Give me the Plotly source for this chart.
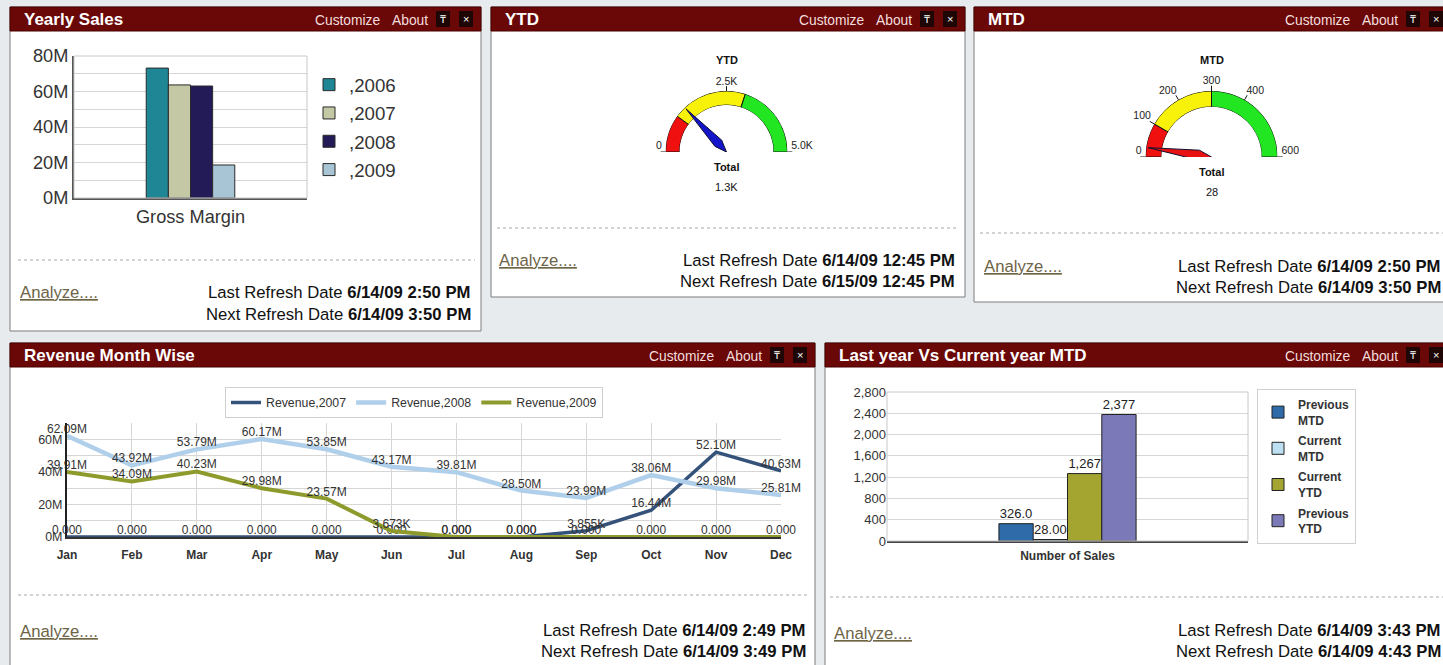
import plotly.graph_objects as go

W, H = 1443, 665


def fx(x):
    return x / W


def fy(y):
    return 1 - y / H


FONT = "Liberation Sans, Arial, sans-serif"

# ---------------- data ----------------
sales_category = ["Gross Margin"]
sales_years = [",2006", ",2007", ",2008", ",2009"]
gross_margin = [73.2e6, 63.7e6, 63.1e6, 18.6e6]
sales_colors = ["#1F8696", "#C4C8A5", "#231B58", "#A8C5D5"]
sales_ticks = [0, 20e6, 40e6, 60e6, 80e6]

months = ["Jan", "Feb", "Mar", "Apr", "May", "Jun", "Jul", "Aug", "Sep", "Oct", "Nov", "Dec"]
rev_names = ["Revenue,2007", "Revenue,2008", "Revenue,2009"]
rev_2007 = [0, 0, 0, 0, 0, 0, 0, 0, 3.855e6, 16.44e6, 52.10e6, 40.63e6]
rev_2008 = [62.09e6, 43.92e6, 53.79e6, 60.17e6, 53.85e6, 43.17e6, 39.81e6, 28.50e6, 23.99e6, 38.06e6, 29.98e6, 25.81e6]
rev_2009 = [39.91e6, 34.09e6, 40.23e6, 29.98e6, 23.57e6, 3.673e6, 0, 0, 0, 0, 0, 0]
rev_colors = ["#34527A", "#AFCFEA", "#8E9B2C"]
rev_ticks = [0, 20e6, 40e6, 60e6]

mtd_category = ["Number of Sales"]
mtd_series = ["Previous<br>MTD", "Current<br>MTD", "Current<br>YTD", "Previous<br>YTD"]
mtd_values = [326.0, 28.0, 1267, 2377]
mtd_colors = ["#2F6BA8", "#BDE0F2", "#A4A531", "#7C79B9"]

ytd_value, ytd_max = 1300, 5000
ytd_bands = [0, 1000, 3000, 5000]
ytd_ticks = [0, 2500, 5000]
ytd_ticktext = ["0", "2.5K", "5.0K"]

mtdg_value, mtdg_max = 28, 600
mtdg_bands = [0, 100, 300, 600]
mtdg_ticks = [0, 100, 200, 300, 400, 600]
mtdg_ticktext = ["0", "100", "200", "300", "400", "600"]
band_colors = ["#F01010", "#F8F20A", "#22E622"]


def fmt_rev(v):
    if v == 0:
        return "0.000"
    if v < 10e6:
        return f"{v / 1000:,.0f}K"
    return f"{v / 1e6:.2f}M"


def fmt_cnt(v):
    if v >= 1000:
        return f"{v:,.0f}"
    if v >= 100:
        return f"{v:.1f}"
    return f"{v:.2f}"


def deg(v, vmax):
    return v / vmax * 180.0


fig = go.Figure()

# ---------------- Yearly Sales bars ----------------
for name, val, col in zip(sales_years, gross_margin, sales_colors):
    fig.add_trace(go.Bar(
        x=sales_category, y=[val], name=name, xaxis="x", yaxis="y", legend="legend",
        legendgroup=name, marker=dict(color=col, line=dict(color="#2a2a2a", width=1)),
        hoverinfo="skip"))

# ---------------- Revenue month wise ----------------
for name, vals, col, wd in zip(rev_names, [rev_2007, rev_2008, rev_2009], rev_colors, [3.5, 4.5, 4]):
    fig.add_trace(go.Scatter(
        x=months, y=vals, name=name, xaxis="x2", yaxis="y2", legend="legend2",
        mode="lines+text", text=[fmt_rev(v) for v in vals], textposition="top center",
        textfont=dict(family=FONT, size=12, color="#333"), cliponaxis=False,
        line=dict(color=col, width=wd), hoverinfo="skip"))

# ---------------- Last year vs current year bars ----------------
for name, val, col in zip(mtd_series, mtd_values, mtd_colors):
    fig.add_trace(go.Bar(
        x=mtd_category, y=[val], name=name, xaxis="x3", yaxis="y3", legend="legend3",
        legendgroup=name, text=[fmt_cnt(val)], textposition="outside", cliponaxis=False,
        textfont=dict(family=FONT, size=13, color="#222"),
        marker=dict(color=col, line=dict(color="#222", width=1)), hoverinfo="skip"))

# ---------------- gauges ----------------
K = 1.4  # radial extent of the overlay polar (ring outer radius = 1)


def label_pos(d):
    if d < 80:
        return "top left"
    if d <= 100:
        return "top center"
    return "top right"


def add_gauge(ring, needle, bands, vmax, value, needle_color, ticks, ticktext):
    for lo, hi, col in zip(bands[:-1], bands[1:], band_colors):
        fig.add_trace(go.Barpolar(
            r=[1], base=[0], theta=[deg((lo + hi) / 2, vmax)], width=[deg(hi - lo, vmax)],
            marker=dict(color=col, line=dict(color="#111", width=1)),
            subplot=ring, showlegend=False, hoverinfo="skip"))
    tr, tt = [], []
    for v in ticks:
        tr += [1.0, 1.08, None]
        tt += [deg(v, vmax), deg(v, vmax), None]
    fig.add_trace(go.Scatterpolar(r=tr, theta=tt, mode="lines", line=dict(color="#111", width=1),
                                  subplot=needle, showlegend=False, hoverinfo="skip"))
    degs = [deg(v, vmax) for v in ticks]
    fig.add_trace(go.Scatterpolar(
        r=[1.06] * len(ticks), theta=degs, mode="text", text=ticktext,
        textposition=[label_pos(d) for d in degs],
        textfont=dict(family=FONT, size=10.5, color="#222"),
        subplot=needle, showlegend=False, hoverinfo="skip"))
    t = deg(value, vmax)
    fig.add_trace(go.Scatterpolar(
        r=[0, 0.21, 0.97, 0.21, 0], theta=[t, t + 21, t, t - 21, t],
        mode="lines", fill="toself", fillcolor=needle_color,
        line=dict(color="#101030", width=1), subplot=needle, showlegend=False, hoverinfo="skip"))


add_gauge("polar", "polar2", ytd_bands, ytd_max, ytd_value, "#1414C8", ytd_ticks, ytd_ticktext)
add_gauge("polar3", "polar4", mtdg_bands, mtdg_max, mtdg_value, "#E81212", mtdg_ticks, mtdg_ticktext)


def polar_layout(cx, cy, R, hole, rmax):
    rr = R * rmax
    return dict(
        domain=dict(x=[fx(cx - rr), fx(cx + rr)], y=[fy(cy), fy(cy - rr)]),
        sector=[0, 180], hole=hole, bgcolor="rgba(0,0,0,0)",
        radialaxis=dict(visible=False, range=[0, rmax]),
        angularaxis=dict(visible=False, rotation=180, direction="clockwise"))


# ---------------- panels (decoration) ----------------
shapes = []
annotations = []

panels = [
    (10, 7, 481, 331, "Yearly Sales"),
    (491, 7, 965, 297, "YTD"),
    (974, 7, 1451, 302, "MTD"),
    (10, 343, 815, 672, "Revenue Month Wise"),
    (825, 343, 1451, 672, "Last year Vs Current year MTD"),
]
HDR = "#6A0707"
for x0, y0, x1, y1, title in panels:
    shapes.append(dict(type="rect", xref="paper", yref="paper", x0=fx(x0), x1=fx(x1), y0=fy(y1), y1=fy(y0),
                       fillcolor="white", line=dict(color="#7d7d7d", width=1), layer="below"))
    shapes.append(dict(type="rect", xref="paper", yref="paper", x0=fx(x0), x1=fx(x1), y0=fy(y0 + 24), y1=fy(y0),
                       fillcolor=HDR, line=dict(color="#4a0000", width=1), layer="below"))
    cy = y0 + 12
    annotations.append(dict(x=fx(x0 + 12), y=fy(cy), xref="paper", yref="paper", text=f"<b>{title}</b>",
                            showarrow=False, xanchor="left", yanchor="middle",
                            font=dict(family=FONT, size=17, color="white")))
    annotations.append(dict(x=fx(x1 - 99), y=fy(cy + 1), xref="paper", yref="paper", text="Customize",
                            showarrow=False, xanchor="right", yanchor="middle",
                            font=dict(family=FONT, size=13.8, color="#F2DEDE")))
    annotations.append(dict(x=fx(x1 - 51), y=fy(cy + 1), xref="paper", yref="paper", text="About",
                            showarrow=False, xanchor="right", yanchor="middle",
                            font=dict(family=FONT, size=13.8, color="#F2DEDE")))
    for cx, sym in [(x1 - 38, "₸"), (x1 - 15, "×")]:
        shapes.append(dict(type="rect", xref="paper", yref="paper", x0=fx(cx - 7), x1=fx(cx + 7),
                           y0=fy(cy + 8), y1=fy(cy - 8), fillcolor="#1E0606", line=dict(width=0), layer="below"))
        annotations.append(dict(x=fx(cx), y=fy(cy), xref="paper", yref="paper", text=sym, showarrow=False,
                                xanchor="center", yanchor="middle", font=dict(family=FONT, size=11, color="white")))

footers = [
    (260, 18, 475, 18, 293, 473, 293, 314, "6/14/09 2:50 PM", "6/14/09 3:50 PM"),
    (228, 497, 958, 497, 260, 957, 260, 281, "6/14/09 12:45 PM", "6/15/09 12:45 PM"),
    (233, 980, 1443, 982, 266, 1443, 266, 287, "6/14/09 2:50 PM", "6/14/09 3:50 PM"),
    (595, 18, 810, 18, 631, 808, 630, 651, "6/14/09 2:49 PM", "6/14/09 3:49 PM"),
    (597, 830, 1443, 832, 633, 1443, 630, 651, "6/14/09 3:43 PM", "6/14/09 4:43 PM"),
]
for dy, dx0, dx1, ax, ay, rx, ly, ny, last, nxt in footers:
    shapes.append(dict(type="line", xref="paper", yref="paper", x0=fx(dx0), x1=fx(dx1), y0=fy(dy), y1=fy(dy),
                       line=dict(color="#A8A8A8", width=1, dash="dot"), layer="below"))
    annotations.append(dict(x=fx(ax), y=fy(ay), xref="paper", yref="paper", text="<u>Analyze....</u>",
                            showarrow=False, xanchor="left", yanchor="middle",
                            font=dict(family=FONT, size=16.7, color="#6E6446")))
    annotations.append(dict(x=fx(rx), y=fy(ly), xref="paper", yref="paper",
                            text=f"Last Refresh Date <b>{last}</b>", showarrow=False, xanchor="right",
                            yanchor="middle", font=dict(family=FONT, size=16.7, color="#111")))
    annotations.append(dict(x=fx(rx), y=fy(ny), xref="paper", yref="paper",
                            text=f"Next Refresh Date <b>{nxt}</b>", showarrow=False, xanchor="right",
                            yanchor="middle", font=dict(family=FONT, size=16.7, color="#111")))

# gauge captions
for cx, title, ty, tot_y, val_txt in [
    (726.5, "YTD", 60, 167, f"{ytd_value / 1000:.1f}K"),
    (1211.5, "MTD", 60, 172, f"{mtdg_value}"),
]:
    for txt, yy in [(f"<b>{title}</b>", ty), ("<b>Total</b>", tot_y), (val_txt, tot_y + 20)]:
        annotations.append(dict(x=fx(cx), y=fy(yy), xref="paper", yref="paper", text=txt,
                                showarrow=False, xanchor="center", yanchor="middle",
                                font=dict(family=FONT, size=11, color="#111")))

# plot frames (light)
for xr, yr in [("x domain", "y domain"), ("x3 domain", "y3 domain")]:
    shapes.append(dict(type="rect", xref=xr, yref=yr, x0=0, x1=1, y0=0, y1=1,
                       line=dict(color="#C8C8C8", width=1), layer="above"))

grid = "#D6D6D6"
fig.update_layout(
    width=W, height=H, autosize=False, margin=dict(l=0, r=0, t=0, b=0, pad=0, autoexpand=False),
    paper_bgcolor="#E8EBEE", plot_bgcolor="white",
    font=dict(family=FONT, color="#333"),
    barmode="group", bargap=0.62, bargroupgap=0,
    showlegend=True,
    shapes=shapes, annotations=annotations,
    xaxis=dict(domain=[fx(74), fx(307)], anchor="y", type="category", showgrid=False, automargin=False,
               showline=True, linecolor="#555", linewidth=2, ticks="",
               tickfont=dict(family=FONT, size=18.2, color="#333"), ticklabelstandoff=1),
    yaxis=dict(domain=[fy(198), fy(56)], anchor="x", range=[0, 80e6], tickmode="array", automargin=False,
               tickvals=sales_ticks, ticktext=[f"{v / 1e6:.0f}M" for v in sales_ticks],
               showgrid=True, gridcolor=grid, zeroline=False,
               minor=dict(tickmode="linear", tick0=0, dtick=10e6, showgrid=True, gridcolor=grid),
               showline=True, linecolor="#555", linewidth=2, ticks="",
               tickfont=dict(family=FONT, size=18.2, color="#333")),
    xaxis2=dict(domain=[fx(67), fx(781)], anchor="y2", type="category", range=[0, 11], automargin=False,
                showgrid=True, gridcolor=grid, showline=True, linecolor="#333", linewidth=2, ticks="",
                tickfont=dict(family=FONT, size=12, color="#333", weight="bold"), ticklabelstandoff=6),
    yaxis2=dict(domain=[fy(537), fy(423)], anchor="x2", range=[0, 70e6], tickmode="array", automargin=False,
                tickvals=rev_ticks, ticktext=[f"{v / 1e6:.0f}M" for v in rev_ticks],
                showgrid=True, gridcolor=grid, zeroline=False,
                minor=dict(tickmode="linear", tick0=0, dtick=10e6, showgrid=True, gridcolor=grid),
                showline=True, linecolor="#222", linewidth=2, ticks="",
                tickfont=dict(family=FONT, size=12.5, color="#333")),
    xaxis3=dict(domain=[fx(887), fx(1248)], anchor="y3", type="category", showgrid=False, automargin=False,
                showline=True, linecolor="#444", linewidth=2, ticks="",
                tickfont=dict(family=FONT, size=12, color="#333", weight="bold"), ticklabelstandoff=3),
    yaxis3=dict(domain=[fy(541), fy(392)], anchor="x3", range=[0, 2800], dtick=400, tickformat=",",
                automargin=False, showgrid=True, gridcolor=grid, zeroline=False, showline=False, ticks="",
                tickfont=dict(family=FONT, size=13, color="#333")),
    polar=polar_layout(726.5, 152, 61, 0.77, 1.0),
    polar2=polar_layout(726.5, 152, 61, 0, K),
    polar3=polar_layout(1211.5, 157, 66, 0.76, 1.0),
    polar4=polar_layout(1211.5, 157, 66, 0, K),
    legend=dict(x=fx(309), y=fy(66), xanchor="left", yanchor="top", bgcolor="rgba(0,0,0,0)",
                font=dict(family=FONT, size=18.7, color="#333"), tracegroupgap=1, traceorder="grouped"),
    legend2=dict(x=fx(414), y=fy(387), xanchor="center", yanchor="top", orientation="h",
                 bgcolor="white", bordercolor="#CFCFCF", borderwidth=1,
                 font=dict(family=FONT, size=12.3, color="#333")),
    legend3=dict(x=fx(1257), y=fy(389), xanchor="left", yanchor="top", bgcolor="white",
                 bordercolor="#D0D0D0", borderwidth=1, tracegroupgap=2, traceorder="grouped",
                 font=dict(family=FONT, size=12, color="#333", weight="bold")),
)

fig.write_html("out.html", config={"displayModeBar": False},
               post_script="document.body.style.margin='0';document.body.style.overflow='hidden';")
